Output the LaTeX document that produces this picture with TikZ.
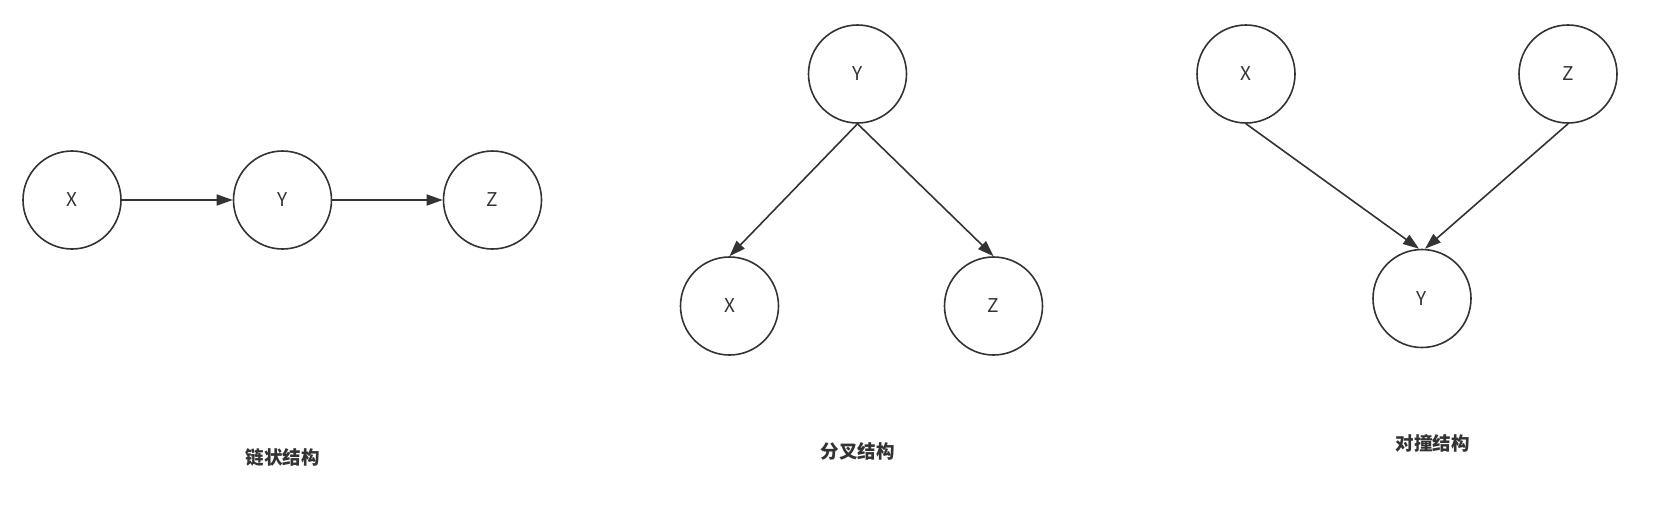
\documentclass[tikz,border=0pt]{standalone}
\usepackage{fontspec}
\setmainfont{Noto Sans CJK SC}
\usetikzlibrary{arrows.meta}
\definecolor{ink}{HTML}{333333}
\tikzset{
  var/.style={draw=ink, line width=1.6pt, circle,
    minimum size=98pt, inner sep=0pt, text=ink,
    font=\fontsize{19}{22}\selectfont},
  edge/.style={draw=ink, line width=1.6pt, -{Triangle[length=16pt,width=11pt]}},
  capt/.style={text=ink, font=\bfseries\fontsize{18.5}{22}\selectfont}
}
\begin{document}
\begin{tikzpicture}[x=1pt,y=-1pt]
\useasboundingbox (0,0) rectangle (1660,512);
% chain
\node[var] (cx) at (72,200) {X};
\node[var] (cy) at (282.5,200) {Y};
\node[var] (cz) at (492.5,200) {Z};
\draw[edge] (cx.east) -- (cy.west);
\draw[edge] (cy.east) -- (cz.west);
\node[capt] (cl) at (282.5,457) {链状结构};
% fork
\node[var] (fy) at (857.5,74) {Y};
\node[var] (fx) at (729.5,306) {X};
\node[var] (fz) at (993.5,306) {Z};
\draw[edge] (fy.south) -- (fx.north);
\draw[edge] (fy.south) -- (fz.north);
\node[capt] (fl) at (857.5,451) {分叉结构};
% collider
\node[var] (kx) at (1246,74) {X};
\node[var] (kz) at (1568,74) {Z};
\node[var] (ky) at (1422,298.5) {Y};
\draw[edge] (kx.south) -- ([xshift=-3pt]ky.north);
\draw[edge] (kz.south) -- ([xshift=3pt]ky.north);
\node[capt] (kl) at (1432.5,443.5) {对撞结构};
\end{tikzpicture}
\end{document}
